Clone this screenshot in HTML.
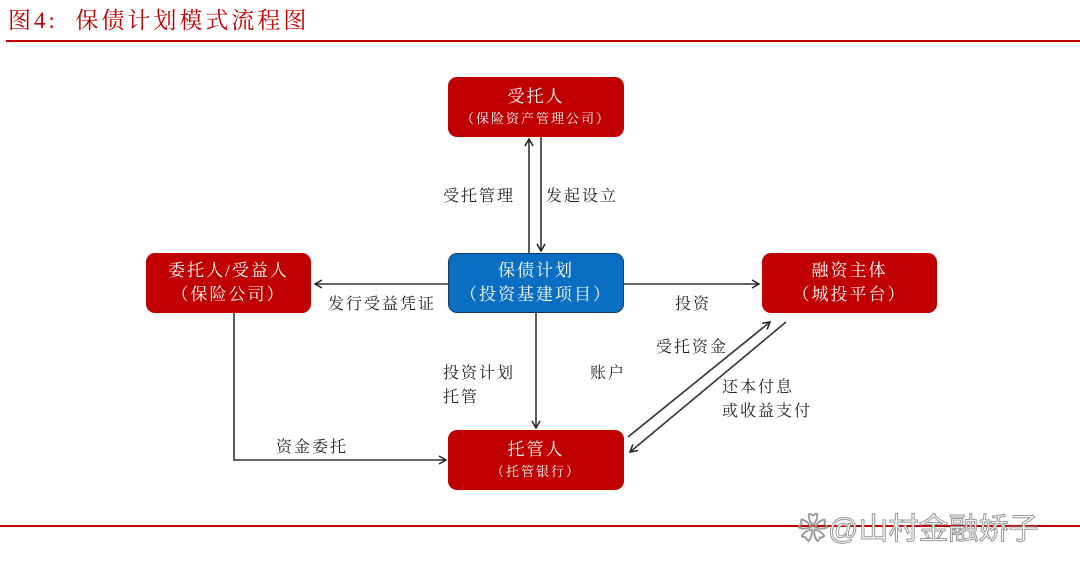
<!DOCTYPE html>
<html><head><meta charset="utf-8"><style>
body{margin:0;width:1080px;height:566px;background:#fff;position:relative;overflow:hidden;font-family:"Liberation Serif","Noto Serif CJK SC",serif;}
.t{position:absolute;left:8px;top:2px;font-size:23px;color:#c00000;letter-spacing:3px}
.box{position:absolute;background:#c00000;border-radius:9px;color:#fff;text-align:center;display:flex;flex-direction:column;justify-content:center;font-size:17px;line-height:24px;letter-spacing:2px}
.blue{background:#0a6fc2;border:1.5px solid #123a6a;box-sizing:border-box}
.s{font-size:13px;line-height:20px}
.l{position:absolute;font-size:16px;color:#222;letter-spacing:2px;line-height:24px}
</style></head><body>
<div class="t">图4:&nbsp;&nbsp;保债计划模式流程图</div>
<div style="position:absolute;left:6px;top:40px;width:1074px;height:2px;background:#c00000"></div>
<div style="position:absolute;left:0;top:525px;width:1080px;height:2px;background:#c00000"></div>
<svg width="1080" height="566" style="position:absolute;left:0;top:0">
<defs><marker id="a" markerWidth="10" markerHeight="10" refX="8" refY="5" orient="auto" markerUnits="userSpaceOnUse"><path d="M1,1 L8,5 L1,9" fill="none" stroke="#222" stroke-width="1.5"/></marker></defs>
<g stroke="#333" stroke-width="1.6" fill="none">
<line x1="529" y1="253" x2="529" y2="139" marker-end="url(#a)"/>
<line x1="541" y1="137" x2="541" y2="251" marker-end="url(#a)"/>
<line x1="448" y1="284" x2="315" y2="284" marker-end="url(#a)"/>
<line x1="624" y1="284" x2="759" y2="284" marker-end="url(#a)"/>
<line x1="536" y1="313" x2="536" y2="428" marker-end="url(#a)"/>
<polyline points="234,313 234,460 446,460" marker-end="url(#a)"/>
<line x1="628" y1="437" x2="770" y2="322" marker-end="url(#a)"/>
<line x1="786" y1="322" x2="630" y2="452" marker-end="url(#a)"/>
</g></svg>
<div class="box" style="left:448px;top:77px;width:176px;height:60px">受托人<span class="s">（保险资产管理公司）</span></div>
<div class="box" style="left:146px;top:253px;width:165px;height:60px">委托人/受益人<span>（保险公司）</span></div>
<div class="box blue" style="left:448px;top:253px;width:176px;height:60px">保债计划<span>（投资基建项目）</span></div>
<div class="box" style="left:762px;top:253px;width:175px;height:60px">融资主体<span>（城投平台）</span></div>
<div class="box" style="left:448px;top:430px;width:176px;height:60px">托管人<span class="s">（托管银行）</span></div>
<div class="l" style="left:443px;top:185px">受托管理</div>
<div class="l" style="left:546px;top:185px">发起设立</div>
<div class="l" style="left:328px;top:293px">发行受益凭证</div>
<div class="l" style="left:675px;top:293px">投资</div>
<div class="l" style="left:656px;top:336px">受托资金</div>
<div class="l" style="left:590px;top:362px">账户</div>
<div class="l" style="left:443px;top:362px">投资计划<br>托管</div>
<div class="l" style="left:722px;top:376px">还本付息<br>或收益支付</div>
<div class="l" style="left:276px;top:436px">资金委托</div>
<div style="position:absolute;left:798px;top:504px;font-family:'Liberation Sans','Noto Sans CJK SC',sans-serif;font-size:30px;color:#fff;-webkit-text-stroke:1px #999">&#x2740;@山村金融娇子</div>
</body></html>
